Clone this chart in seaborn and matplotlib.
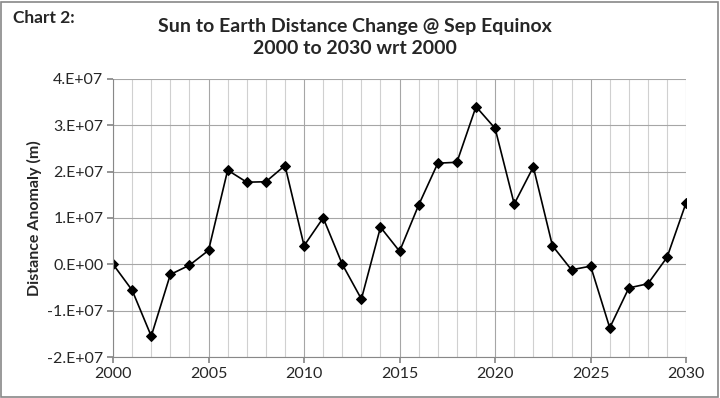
import matplotlib
matplotlib.use("Agg")
import matplotlib.pyplot as plt
import matplotlib.ticker as mticker
import numpy as np
import pandas as pd
import seaborn as sns

years = list(range(2000, 2031))
anomaly_m = [
    0.0, -5.6e6, -1.55e7, -2.2e6, -0.2e6, 3.0e6, 2.03e7, 1.77e7, 1.78e7, 2.13e7,
    4.0e6, 1.0e7, 0.0, -7.5e6, 8.0e6, 2.8e6, 1.28e7, 2.18e7, 2.2e7, 3.4e7,
    2.93e7, 1.3e7, 2.1e7, 4.0e6, -1.2e6, -0.4e6, -1.37e7, -5.1e6, -4.2e6, 1.5e6,
    1.33e7,
]
ytick_vals = [-2e7, -1e7, 0.0, 1e7, 2e7, 3e7, 4e7]
ytick_labels = ["-2.E+07", "-1.E+07", "0.E+00", "1.E+07", "2.E+07", "3.E+07", "4.E+07"]
xtick_vals = [2000, 2005, 2010, 2015, 2020, 2025, 2030]

df = pd.DataFrame({"year": years, "anomaly": anomaly_m})

sns.set_theme(style="white")
plt.rcParams["font.family"] = ["Lato", "DejaVu Sans"]

fig = plt.figure(figsize=(7.2, 3.98), dpi=100)
ax = fig.add_axes([0.157, 0.103, 0.796, 0.699])

sns.lineplot(data=df, x="year", y="anomaly", ax=ax, color="black", linewidth=1.2,
             marker="D", markersize=5.5, markeredgecolor="black", markerfacecolor="black")

ax.set_xlim(2000, 2030)
ax.set_ylim(-2e7, 4e7)
ax.xaxis.set_major_locator(mticker.FixedLocator(xtick_vals))
ax.xaxis.set_minor_locator(mticker.MultipleLocator(1))
ax.set_yticks(ytick_vals)
ax.set_yticklabels(ytick_labels)
ax.grid(True, which="major", color="#a6a6a6", linewidth=0.8)
ax.grid(True, which="minor", axis="x", color="#d0d0d0", linewidth=0.8)
ax.tick_params(axis="both", which="major", labelsize=11.5, length=4, color="#888888",
               direction="out", pad=3)
ax.tick_params(axis="x", which="minor", length=0)
ax.tick_params(left=True, bottom=True)
for side in ["top", "right"]:
    ax.spines[side].set_visible(False)
for side in ["left", "bottom"]:
    ax.spines[side].set_color("#888888")
    ax.spines[side].set_linewidth(0.8)

ax.set_xlabel("")
ax.set_ylabel("Distance Anomaly (m)", fontsize=11.5, fontweight="bold")

fig.text(0.018, 0.955, "Chart 2:", fontsize=12.5, fontweight="bold", va="center", ha="left")
fig.text(0.493, 0.905, "Sun to Earth Distance Change @ Sep Equinox\n2000 to 2030 wrt 2000",
         fontsize=14, fontweight="bold", ha="center", va="center", linespacing=1.35)

fig.patches.append(plt.Rectangle((0.002, 0.003), 0.995, 0.993, transform=fig.transFigure,
                                 fill=False, edgecolor="#888888", linewidth=1.2))

fig.savefig("out.png", dpi=100)
